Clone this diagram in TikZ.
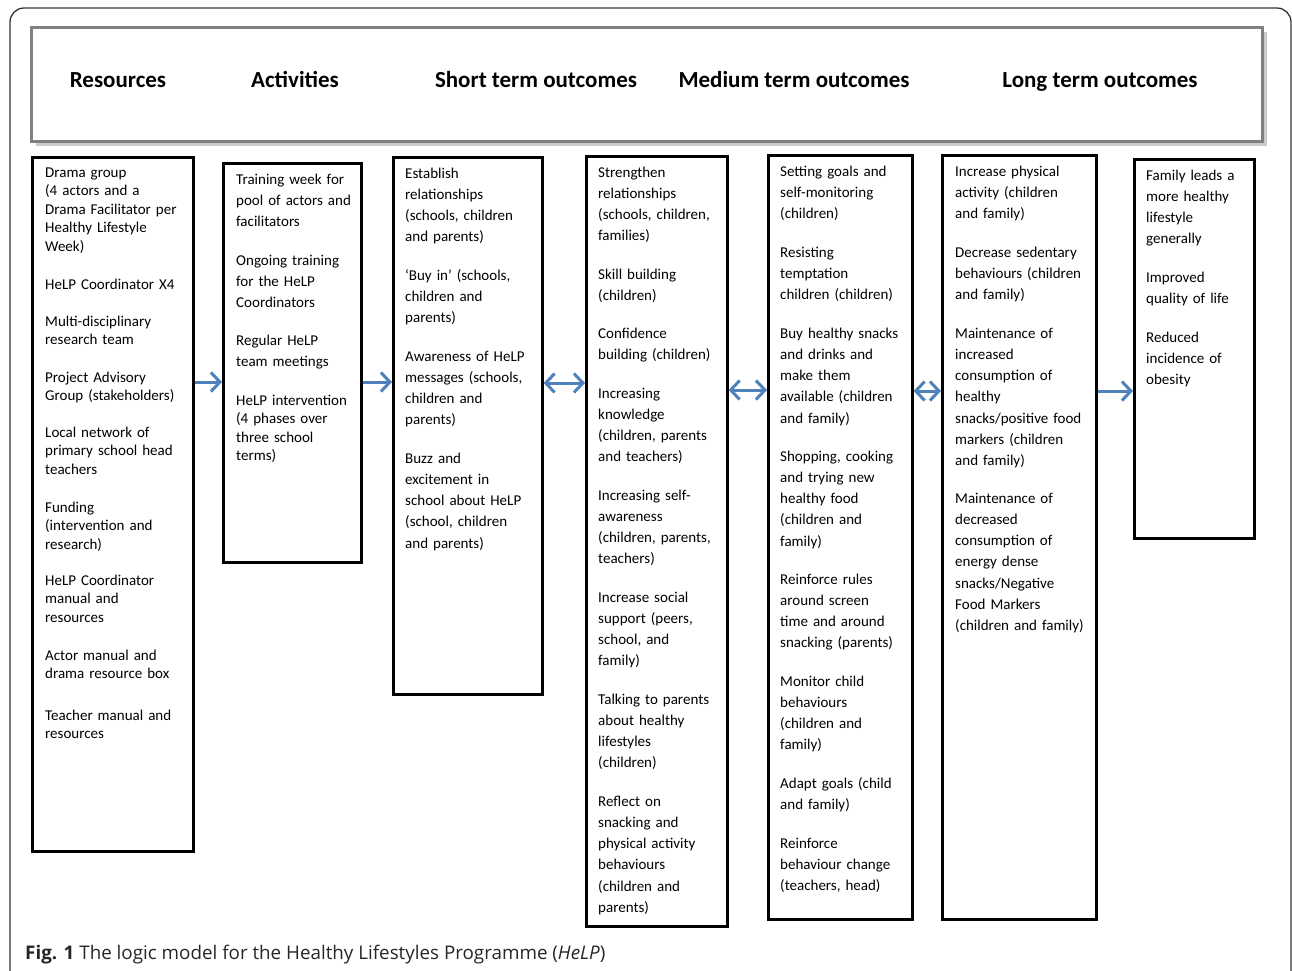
\documentclass[tikz,border=0pt]{standalone}
\usepackage{fontspec}
\setmainfont{Carlito}
\newfontfamily\capfont{Open Sans}
\usetikzlibrary{arrows.meta,shadows}

\definecolor{arrowblue}{RGB}{79,129,189}

\tikzset{
  colbox/.style={draw=black, line width=2.6pt, anchor=north west, inner sep=0pt},
  item/.style={anchor=base west, inner sep=0pt, align=left, text width=170pt,
    font=\fontsize{15pt}{21.3pt}\selectfont},
  itemtight/.style={item, font=\fontsize{15pt}{18.6pt}\selectfont},
  head/.style={anchor=base, inner sep=0pt, font=\fontsize{23pt}{26pt}\selectfont\bfseries},
  tip/.tip={Straight Barb[length=9pt,width=19pt,line width=3pt]},
  flow/.style={draw=arrowblue, line width=3pt, -tip},
  twoflow/.style={flow, tip-tip}
}

\begin{document}
\begin{tikzpicture}[x=1pt,y=-1pt]
  \useasboundingbox (0,0) rectangle (1292,970);

  % outer frame
  \draw[line width=1.3pt, rounded corners=14pt, black!80] (10,8) rectangle (1291,985);

  % header
  \node[anchor=north west, minimum width=1231pt, minimum height=114pt, draw=black!50,
    line width=2.5pt, fill=white,
    drop shadow={shadow xshift=5pt, shadow yshift=-5pt, fill=black!35, opacity=0.6}]
    (header) at (30,26) {};
  \node[head] (hres) at (118,87) {Resources};
  \node[head] (hact) at (295,87) {Activities};
  \node[head] (hshort) at (536,87) {Short term outcomes};
  \node[head] (hmed) at (794,87) {Medium term outcomes};
  \node[head] (hlong) at (1100,87) {Long term outcomes};

  % boxes
  \node[colbox, minimum width=161pt, minimum height=694pt] (res) at (31,156) {};
  \node[colbox, minimum width=138pt, minimum height=399pt] (act) at (222,162) {};
  \node[colbox, minimum width=149pt, minimum height=537pt] (short) at (392,156) {};
  \node[colbox, minimum width=141pt, minimum height=770pt] (medA) at (585,155) {};
  \node[colbox, minimum width=144pt, minimum height=764pt] (medB) at (767,154) {};
  \node[colbox, minimum width=154pt, minimum height=764pt] (longA) at (941,154) {};
  \node[colbox, minimum width=120pt, minimum height=379pt] (longB) at (1133,158) {};

  % Resources
  \node[itemtight] (r1) at (45,177) {Drama group\\(4 actors and a\\Drama Facilitator per\\Healthy Lifestyle\\Week)};
  \node[itemtight] (r2) at (45,289) {HeLP Coordinator X4};
  \node[itemtight] (r3) at (45,326) {Multi-disciplinary\\research team};
  \node[itemtight] (r4) at (45,382) {Project Advisory\\Group (stakeholders)};
  \node[itemtight] (r5) at (45,437) {Local network of\\primary school head\\teachers};
  \node[itemtight] (r6) at (45,512) {Funding\\(intervention and\\research)};
  \node[itemtight] (r7) at (45,585) {HeLP Coordinator\\manual and\\resources};
  \node[itemtight] (r8) at (45,660) {Actor manual and\\drama resource box};
  \node[itemtight] (r9) at (45,720) {Teacher manual and\\resources};

  % Activities
  \node[item] (a1) at (236,184) {Training week for\\pool of actors and\\facilitators};
  \node[item] (a2) at (236,265) {Ongoing training\\for the HeLP\\Coordinators};
  \node[item] (a3) at (236,345) {Regular HeLP\\team meetings};
  \node[itemtight] (a4) at (236,405) {HeLP intervention\\(4 phases over\\three school\\terms)};

  % Short term outcomes
  \node[item] (s1) at (405,178) {Establish\\relationships\\(schools, children\\and parents)};
  \node[item] (s2) at (405,280) {‘Buy in’ (schools,\\children and\\parents)};
  \node[item] (s3) at (405,361) {Awareness of HeLP\\messages (schools,\\children and\\parents)};
  \node[item] (s4) at (405,463) {Buzz and\\excitement in\\school about HeLP\\(school, children\\and parents)};

  % Medium term outcomes
  \node[item] (m1) at (598,177) {Strengthen\\relationships\\(schools, children,\\families)};
  \node[item] (m2) at (598,279) {Skill building\\(children)};
  \node[item] (m3) at (598,338) {Confidence\\building (children)};
  \node[item] (m4) at (598,398) {Increasing\\knowledge\\(children, parents\\and teachers)};
  \node[item] (m5) at (598,500) {Increasing self-\\awareness\\(children, parents,\\teachers)};
  \node[item] (m6) at (598,602) {Increase social\\support (peers,\\school, and\\family)};
  \node[item] (m7) at (598,704) {Talking to parents\\about healthy\\lifestyles\\(children)};
  \node[item] (m8) at (598,806) {Reflect on\\snacking and\\physical activity\\behaviours\\(children and\\parents)};

  \node[item] (n1) at (780,176) {Setting goals and\\self-monitoring\\(children)};
  \node[item] (n2) at (780,257) {Resisting\\temptation\\children (children)};
  \node[item] (n3) at (780,338) {Buy healthy snacks\\and drinks and\\make them\\available (children\\and family)};
  \node[item] (n4) at (780,461) {Shopping, cooking\\and trying new\\healthy food\\(children and\\family)};
  \node[item] (n5) at (780,584) {Reinforce rules\\around screen\\time and around\\snacking (parents)};
  \node[item] (n6) at (780,686) {Monitor child\\behaviours\\(children and\\family)};
  \node[item] (n7) at (780,788) {Adapt goals (child\\and family)};
  \node[item] (n8) at (780,848) {Reinforce\\behaviour change\\(teachers, head)};

  % Long term outcomes
  \node[item] (l1) at (955,176) {Increase physical\\activity (children\\and family)};
  \node[item] (l2) at (955,257) {Decrease sedentary\\behaviours (children\\and family)};
  \node[item] (l3) at (955,338) {Maintenance of\\increased\\consumption of\\healthy\\snacks/positive food\\markers (children\\and family)};
  \node[item] (l4) at (955,503) {Maintenance of\\decreased\\consumption of\\energy dense\\snacks/Negative\\Food Markers\\(children and family)};

  \node[item] (k1) at (1146,180) {Family leads a\\more healthy\\lifestyle\\generally};
  \node[item] (k2) at (1146,282) {Improved\\quality of life};
  \node[item] (k3) at (1146,342) {Reduced\\incidence of\\obesity};

  % arrows
  \draw[flow] (res.east |- 0,382) -- (act.west |- 0,382);
  \draw[flow] (act.east |- 0,382) -- (short.west |- 0,382);
  \draw[twoflow] (short.east |- 0,383) -- (medA.west |- 0,383);
  \draw[twoflow] (medA.east |- 0,390) -- (medB.west |- 0,390);
  \draw[twoflow] (medB.east |- 0,391) -- (longA.west |- 0,391);
  \draw[flow] (longA.east |- 0,391) -- (longB.west |- 0,391);

  % caption
  \node[anchor=base west, inner sep=0pt, font=\capfont\fontsize{18.8pt}{22pt}\selectfont, text=black!85]
    (caption) at (25,959) {\textbf{Fig. 1} The logic model for the Healthy Lifestyles Programme (\textit{HeLP})};
\end{tikzpicture}
\end{document}
